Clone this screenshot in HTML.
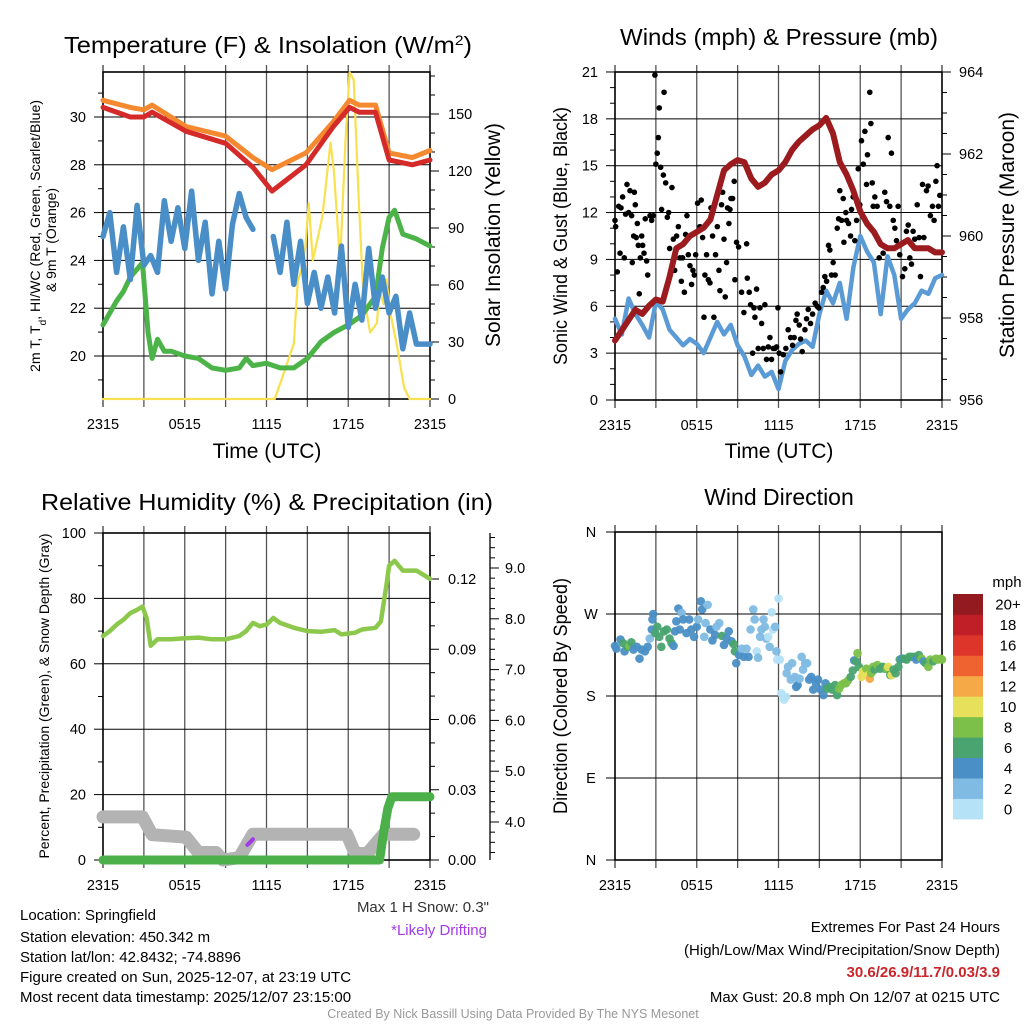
<!DOCTYPE html>
<html><head><meta charset="utf-8"><title>Mesonet Station Meteogram</title>
<style>
html,body{margin:0;padding:0;background:#fff;}
svg{display:block;font-family:"Liberation Sans",Arial,sans-serif;}
</style></head>
<body>
<svg id="chart" xmlns="http://www.w3.org/2000/svg" width="1024" height="1024" viewBox="0 0 1024 1024"></svg>
<script>
// ---------------- DATA ----------------
const tempT   = [0,2,3,3.6,6.1,9,11,12.4,14.9,16.9,18.1,18.8,20,21,22.7,24];
const temp9m  = [30.7,30.4,30.3,30.5,29.6,29.2,28.3,27.8,28.5,29.8,30.7,30.5,30.5,28.5,28.3,28.6];
const temp2m  = [30.4,30.0,30.0,30.2,29.4,28.9,27.9,26.9,28.0,29.6,30.4,30.2,30.2,28.2,28.0,28.2];
const hiwcT   = [0,0.5,1,1.5,2,2.5,3,3.5,4,4.5,5,5.5,6,6.5,7,7.5,8,8.5,9,9.5,10,10.5,11,11.5,12,12.5,13,13.5,14,14.5,15,15.5,16,16.5,17,17.5,18,18.5,19,19.5,20,20.5,21,21.5,22,22.5,23,23.5,24];
const hiwcV   = [25,26,23.5,25.4,23.2,26.3,23.8,24.2,23.5,26.5,24.8,26.2,24.5,26.9,24.0,25.6,22.6,24.8,22.8,25.5,26.8,25.8,25.3,null,null,25.0,23.5,25.6,23.0,24.8,22.2,23.5,22.0,23.3,21.8,24.6,21.2,23.0,21.5,24.5,22.0,23.3,21.8,22.5,20.3,21.8,20.5,20.5,20.5];
const dewT    = [0,1,1.5,2,2.9,3.3,3.6,4,4.5,5,6,7,8,9,10,10.5,11,12,13,14,15,16,17,18,19,20,20.5,21,21.4,22,23,24];
const dewV    = [21.3,22.3,22.7,23.3,23.9,21.0,19.9,20.7,20.2,20.2,20.0,19.9,19.5,19.4,19.5,19.9,19.6,19.7,19.5,19.5,19.9,20.6,21.0,21.3,21.7,22.5,24.5,25.8,26.1,25.1,24.9,24.6];
const solarT  = [0,12.6,13.0,14.0,14.3,14.6,14.85,15.1,15.4,16.1,16.7,16.95,17.4,17.8,18.1,18.4,18.75,19.1,19.6,20.1,20.3,20.6,20.8,21.1,21.6,22.1,22.5,24];
const solarV  = [0,0,8,29,62,69,80,103,73,96,135,120,72,136,172,168,108,56,35,40,57,50,63,45,27,6,0,0];
const tempTicks  = [20,22,24,26,28,30];
const solarTicks = [0,30,60,90,120,150];
const timeLabels = ["2315","0515","1115","1715","2315"];

const windT   = [0,0.5,1,1.5,2,2.5,3,3.5,4,4.5,5,5.5,6,6.5,7,7.5,8,8.5,9,9.5,10,10.5,11,11.5,12,12.5,13,13.5,14,14.5,15,15.5,16,16.5,17,17.5,18,18.5,19,19.5,20,20.5,21,21.5,22,22.5,23,23.5,24];
const windV   = [5.2,4.2,6.5,5.5,4.8,4.0,6.3,5.8,4.5,4.0,3.5,3.9,3.6,3.0,4.0,5.0,4.2,4.8,3.5,2.8,1.6,2.2,1.5,1.8,0.7,2.5,3.2,3.6,3.8,3.4,5.5,7.0,6.2,7.5,5.2,8.5,10.5,9.5,8.8,5.5,9.2,8.0,5.2,5.8,6.2,7.0,6.8,7.8,8.0];
const presT   = [0,0.5,1,1.5,2,2.5,3,3.5,4,4.5,5,5.5,6,6.5,7,7.5,8,8.5,9,9.5,10,10.5,11,11.5,12,12.5,13,13.5,14,14.5,15,15.5,16,16.5,17,17.5,18,18.5,19,19.5,20,20.5,21,21.5,22,22.5,23,23.5,24];
const presV   = [957.45,957.7,957.95,958.2,958.1,958.3,958.45,958.4,959.0,959.7,959.8,960.0,960.1,960.2,960.4,961.0,961.6,961.75,961.85,961.8,961.4,961.2,961.3,961.5,961.6,961.8,962.1,962.3,962.45,962.6,962.7,962.88,962.5,961.8,961.5,961.1,960.6,960.3,960.1,959.8,959.7,959.7,959.8,959.9,959.7,959.7,959.7,959.6,959.6];
const gustT = [0,0.05,0.17,0.27,0.37,0.44,0.56,0.68,0.78,0.88,1.0,1.1,1.22,1.27,1.37,1.42,1.49,1.56,1.64,1.71,1.78,1.86,1.96,2.03,2.13,2.22,2.32,2.4,2.57,2.69,2.81,
 2.93,3.0,3.1,3.18,3.25,3.35,3.42,3.55,3.6,3.72,3.84,3.94,4.18,
 4.01,4.28,4.38,4.52,4.65,4.77,4.87,4.96,5.09,5.18,5.28,5.38,5.5,5.62,5.72,5.82,5.92,
 6.06,6.23,6.33,6.43,6.53,6.6,6.72,6.85,6.97,7.04,7.16,7.26,7.38,7.51,7.63,7.7,7.82,7.9,8.0,8.09,8.19,8.26,8.36,8.44,8.51,8.63,8.75,8.8,8.92,9.07,9.29,9.46,9.66,9.71,
 9.85,9.95,10.1,10.2,10.27,10.39,10.51,10.64,10.76,10.88,11.0,11.12,11.25,11.37,11.49,11.61,11.74,11.86,11.96,12.05,
 12.15,12.35,12.54,12.71,12.89,13.03,13.15,13.28,13.37,13.52,13.62,13.74,13.94,14.06,14.18,14.35,14.5,14.69,14.84,14.96,
 15.16,15.28,15.4,15.53,15.67,15.77,15.89,16.01,16.16,16.31,16.41,16.5,16.63,16.75,16.8,16.94,17.0,17.14,17.29,17.36,17.48,17.6,17.73,17.85,17.97,
 18.09,18.22,18.34,18.46,18.53,18.7,18.78,18.88,18.95,19.07,19.24,19.39,19.49,19.68,19.8,19.93,20.05,20.17,20.29,20.42,20.54,20.66,20.78,20.9,
 21.1,21.27,21.39,21.52,21.64,21.76,21.88,22.0,22.18,22.32,22.42,22.57,22.67,22.86,22.98,23.15,23.3,23.42,23.55,23.64,23.74,23.84];
const gustV = [11.5,11.1,8.2,12.4,9.4,12.3,13.0,9.1,11.9,13.8,12.0,13.4,11.8,8.8,10.5,13.3,12.5,10.4,11.3,9.9,6.8,9.1,10.5,9.9,9.4,11.6,8.9,8.0,11.8,11.5,11.8,
 20.8,15.1,15.8,16.8,18.7,14.9,12.2,14.4,19.7,13.9,11.7,12.0,13.6,
 9.7,10.3,8.3,10.5,11.1,9.1,7.6,9.1,6.9,10.6,11.8,9.3,8.6,7.4,8.3,8.0,9.3,
 12.6,11.1,12.8,10.4,5.3,8.0,9.3,7.7,7.5,12.3,10.5,5.3,9.3,11.1,8.3,7.0,12.5,13.3,10.3,6.6,8.8,12.3,11.3,12.2,12.9,12.9,14.0,7.7,10.1,9.8,6.9,5.6,10.0,7.8,
 6.9,6.1,3.0,5.9,5.3,7.1,3.3,5.9,4.9,3.3,6.1,2.6,3.4,4.0,2.6,3.3,3.3,3.4,5.9,3.0,
 1.8,2.9,3.3,4.5,4.0,3.5,4.0,5.1,5.5,4.8,3.9,3.1,4.5,5.2,5.8,4.9,5.5,6.2,6.0,5.9,
 6.9,7.2,7.9,7.6,9.9,9.6,8.0,8.8,8.0,11.0,11.6,13.4,11.5,12.9,10.1,12.0,11.5,11.3,10.5,12.2,13.0,10.2,11.5,14.8,12.5,
 16.6,15.1,17.2,13.8,15.7,19.7,17.7,13.9,12.4,13.0,12.4,9.1,10.0,9.4,13.3,12.7,16.8,12.4,15.8,11.5,11.0,10.2,12.4,9.3,
 7.9,8.4,10.8,11.2,9.1,8.7,10.8,10.3,12.5,10.4,7.9,13.8,10.4,13.4,13.7,11.8,12.4,11.5,14.0,15.0,12.4,13.1];
const windTicks = [0,3,6,9,12,15,18,21];
const presTicks = [956,958,960,962,964];

const rhT  = [0,0.5,1,1.5,2,2.5,2.9,3.2,3.5,4,5,6,7,8,9,10,10.5,11,11.5,12,12.5,13,14,15,16,17,17.5,18.5,19,20,20.4,20.8,21,21.4,22,23,24];
const rhV  = [68.5,70,72,73.5,75.5,76.5,77.5,74,65.5,67.5,67.5,67.8,68,67.5,67.5,68.5,70,72.5,71.5,72,74,72.5,71,70,69.8,70.3,69,69.5,70.5,71,73,84,90,91.5,88.5,88.5,86];
const precipT = [0,20.3,20.6,20.9,21.2,24];
const precipV = [0,0,0.012,0.022,0.027,0.027];
const snowT = [0,2.9,3.6,6.1,7.0,8.3,8.8,10.0,11.0,17.9,18.5,19.4,20.6,22.8];
const snowV = [4.1,4.1,3.75,3.7,3.4,3.4,3.25,3.3,3.76,3.76,3.38,3.38,3.76,3.76];
const driftT = [10.6,11.0];
const driftV = [3.55,3.66];
const rhTicks = [0,20,40,60,80,100];
const precipTicks = [0,0.03,0.06,0.09,0.12];
const snowTicks = [4,5,6,7,8,9];

const dirT = [0.0,0.1,0.4,0.6,0.7,0.9,1.05,1.2,1.35,1.6,1.8,1.95,2.2,2.4,2.55,2.7,2.75,2.8,2.95,3.1,3.25,3.4,3.6,3.8,4.0,4.15,4.3,4.4,4.5,4.65,4.75,4.9,5.0,5.25,5.45,5.6,5.8,6.0,6.1,6.3,6.4,6.55,6.65,6.8,7.0,7.15,7.35,7.45,7.65,7.85,8.0,8.2,8.35,8.55,8.7,8.8,8.9,9.1,9.3,9.45,9.65,9.8,9.95,10.15,10.25,10.4,10.5,10.65,10.75,10.9,11.0,11.1,11.25,11.35,11.5,11.6,11.75,11.85,12.0,11.9,12.1,12.2,12.4,12.55,12.6,12.7,12.9,13.0,13.2,13.3,13.4,13.55,13.7,13.8,13.95,14.1,14.25,14.4,14.55,14.75,14.9,15.1,15.3,15.45,15.55,15.75,15.95,16.15,16.3,16.45,16.6,16.8,16.95,17.1,17.3,17.45,17.55,17.7,17.8,17.9,18.1,18.2,18.35,18.45,18.6,18.7,18.8,18.95,19.05,19.25,19.45,19.65,19.8,19.95,20.05,20.2,20.3,20.45,20.6,20.8,20.9,21.05,21.2,21.4,21.6,21.75,21.95,22.1,22.3,22.5,22.65,22.8,23.0,23.15,23.35,23.55,23.7,23.9,24.0];
const dirD = [235,232,242,238,229,234,235,239,231,234,221,231,229,234,243,253,264,270,249,256,245,234,251,253,243,238,235,251,262,276,253,271,264,249,264,253,245,256,264,284,275,245,260,280,253,241,247,256,260,246,236,243,251,240,237,229,216,225,232,223,232,223,253,275,264,229,222,245,253,264,256,243,245,234,272,253,256,229,287,220,220,183,176,179,205,212,198,216,201,190,192,199,223,209,216,216,198,201,187,194,198,187,181,194,188,190,187,192,181,188,192,194,194,197,201,208,219,218,227,212,201,207,208,210,203,199,205,212,209,214,210,212,210,210,212,203,203,209,205,212,220,221,221,220,223,223,223,220,225,221,218,216,212,220,218,221,220,221,220];
const dirS = [4,4,4,6,4,6,8,6,4,4,4,4,4,4,2,4,4,4,6,6,6,6,6,6,6,6,4,4,4,4,4,2,4,4,4,4,4,4,2,4,4,2,2,2,4,4,4,2,2,6,4,4,4,4,6,6,4,4,2,4,2,4,2,2,2,0,2,2,2,2,2,2,0,2,0,0,2,2,0,0,0,0,0,0,2,2,2,2,2,4,4,2,2,2,2,2,4,4,4,4,4,4,4,4,6,6,6,6,6,8,8,8,8,8,6,6,4,6,8,6,10,10,10,8,10,12,8,8,6,8,6,6,6,8,10,6,10,6,6,6,6,4,6,6,6,6,6,4,6,8,4,6,8,8,6,8,8,8,8];
const dirTicks = [0,90,180,270,360];
const dirLabels = ["N","E","S","W","N"];
const cbLabels = ["0","2","4","6","8","10","12","14","16","18","20+"];
const cbColors = ["#b5e2f7","#80bbe3","#4a8fc6","#49a46f","#7cc04a","#e6e05b","#f5a947","#ee6330","#dd3529","#c01f27","#931a1e"];

// ---------------- DRAWING ----------------
const NS = 'http://www.w3.org/2000/svg';
const svg = document.getElementById('chart');
function mk(tag, attrs, parent){
  const e = document.createElementNS(NS, tag);
  for (const k in attrs) e.setAttribute(k, attrs[k]);
  (parent || svg).appendChild(e);
  return e;
}
function group(name){
  const g = mk('g', {});
  
  
  return g;
}
function text(parent, x, y, s, size, anchor, name, extra){
  const a = Object.assign({x:x, y:y, 'font-size':size, 'text-anchor':anchor||'start', fill:'#000'}, extra||{});
  const t = mk('text', a, parent);
  t.textContent = s;
  
  
  return t;
}
function vtext(parent, x, y, s, size, len, name, color){
  const t = mk('text', {x:0, y:0, 'font-size':size, 'text-anchor':'middle', fill:color||'#000',
    transform:'translate('+x+','+y+') rotate(-90)', textLength:len, lengthAdjust:'spacingAndGlyphs'}, parent);
  t.textContent = s;
  
  
  return t;
}
function tspan(parent, s, attrs){
  const sp = mk('tspan', attrs, parent);
  sp.textContent = s;
  return sp;
}
function polyline(parent, ts, vs, sx, sy, color, width, name){
  let d = '', pen = false;
  for (let i = 0; i < ts.length; i++){
    if (vs[i] === null || vs[i] === undefined){ pen = false; continue; }
    d += (pen ? 'L' : 'M') + sx(ts[i]).toFixed(1) + ',' + sy(vs[i]).toFixed(1);
    pen = true;
  }
  const p = mk('path', {d:d, fill:'none', stroke:color, 'stroke-width':width, 'stroke-linejoin':'round', 'stroke-linecap':'round'}, parent);
  
  
  return p;
}
function frame(g, P, hGrid, ySc){
  for (let h = 3; h < 24; h += 3){
    const x = P.sx(h);
    const l = mk('line', {x1:x, x2:x, y1:P.top-7, y2:P.bot+8, stroke:'#555', 'stroke-width':1.3}, g);
    
    
  }
  for (const h of [0,24]){
    const x = P.sx(h);
    const l = mk('line', {x1:x, x2:x, y1:P.top-7, y2:P.bot+8, stroke:'#000', 'stroke-width':1}, g);
    
    
  }
  hGrid.forEach(v => {
    const y = ySc(v);
    const l = mk('line', {x1:P.x0, x2:P.x1, y1:y, y2:y, stroke:'#000', 'stroke-width':1}, g);
    
    
  });
  const r = mk('rect', {x:P.x0, y:P.top, width:P.x1-P.x0, height:P.bot-P.top, fill:'none', stroke:'#000', 'stroke-width':1.6}, g);
  
  
  timeLabels.forEach((s, i) => {
    text(g, P.sx(i*6), P.bot+30, s, 14.5, 'middle', 'x-tick-label');
  });
}
function yTicks(g, x, majors, minors, sc, dir, labelFn, labelX, anchor, name){
  minors.forEach(v => {
    const y = sc(v);
    const l = mk('line', {x1:x, x2:x+dir*5, y1:y, y2:y, stroke:'#000', 'stroke-width':1}, g);
    
    
  });
  majors.forEach(v => {
    const y = sc(v);
    const l = mk('line', {x1:x, x2:x+dir*9, y1:y, y2:y, stroke:'#000', 'stroke-width':1}, g);
    
    
    text(g, labelX, y+5, labelFn(v), 14.5, anchor, name + '-tick-label');
  });
}
function range(a, b, s){ const r=[]; for (let v=a; v<=b+1e-9; v+=s) r.push(+v.toFixed(4)); return r; }

// ----- Panel 1 -----
const P1 = {x0:103, x1:430, top:72, bot:399};
P1.sx = t => P1.x0 + t/24*(P1.x1-P1.x0);
const yT = v => 356 - (v-20)*23.9;
const yS = v => 399 - v*1.9;
{
  const g = group('temperature-panel');
  const tt = text(g, 268, 53, 'Temperature (F) & Insolation (W/m', 23, 'middle', 'temperature-title', {textLength:408, lengthAdjust:'spacingAndGlyphs'});
  tspan(tt, '2', {'baseline-shift':'super', 'font-size':14});
  tspan(tt, ')', {'baseline-shift':'baseline'});
  frame(g, P1, tempTicks, yT);
  yTicks(g, P1.x0, tempTicks, range(19,31,2), yT, -1, v => String(v), 86, 'end', 'temp-axis');
  yTicks(g, P1.x1, solarTicks, range(10,170,10).filter(v=>v%30), yS, 1, v => String(v), 448, 'start', 'solar-axis');
  const yl = vtext(g, 40, 236, '2m T, T', 14, 272, 'temp-y-title-1');
  tspan(yl, 'd', {'baseline-shift':'sub', 'font-size':10});
  tspan(yl, ', HI/WC (Red, Green, Scarlet/Blue)', {'baseline-shift':'baseline'});
  vtext(g, 56, 240, '& 9m T (Orange)', 14, 104, 'temp-y-title-2');
  vtext(g, 500, 235, 'Solar Insolation (Yellow)', 21, 224, 'solar-y-title');
  text(g, 267, 458, 'Time (UTC)', 21, 'middle', 'x-axis-title');
  polyline(g, solarT, solarV, P1.sx, yS, '#f9e04f', 2.2, 'solar-line');
  polyline(g, dewT, dewV, P1.sx, yT, '#4bb347', 5, 'dewpoint-line');
  polyline(g, hiwcT, hiwcV, P1.sx, yT, '#4a8ec8', 5.5, 'heat-index-wind-chill-line');
  polyline(g, tempT, temp9m, P1.sx, yT, '#f5892f', 5, 'temp-9m-line');
  polyline(g, tempT, temp2m, P1.sx, yT, '#d42a29', 5, 'temp-2m-line');
}

// ----- Panel 2 -----
const P2 = {x0:615, x1:942, top:72, bot:400};
P2.sx = t => P2.x0 + t/24*(P2.x1-P2.x0);
const yW = v => 400 - v*15.62;
const yP = p => 400 - (p-956)*41;
{
  const g = group('wind-pressure-panel');
  text(g, 779, 45, 'Winds (mph) & Pressure (mb)', 23, 'middle', 'winds-title', {textLength:318, lengthAdjust:'spacingAndGlyphs'});
  frame(g, P2, windTicks.slice(1,7), yW);
  yTicks(g, P2.x0, windTicks, range(1,20,1).filter(v=>v%3), yW, -1, v => String(v), 598, 'end', 'wind-axis');
  yTicks(g, P2.x1, presTicks, range(956.5,963.5,0.5).filter(v=>v%2), yP, 1, v => String(v), 959, 'start', 'pressure-axis');
  vtext(g, 567, 236, 'Sonic Wind & Gust (Blue, Black)', 19, 258, 'wind-y-title');
  vtext(g, 1014, 235, 'Station Pressure (Maroon)', 21, 246, 'pressure-y-title');
  text(g, 779, 458, 'Time (UTC)', 21, 'middle', 'x-axis-title');
  polyline(g, windT, windV, P2.sx, yW, '#5b9bd5', 4.5, 'sonic-wind-line');
  gustT.forEach((t, i) => {
    const c = mk('circle', {cx:P2.sx(t), cy:yW(gustV[i]), r:2.8, fill:'#000'}, g);
    
    
  });
  polyline(g, presT, presV, P2.sx, yP, '#9b1b1e', 6, 'pressure-line');
}

// ----- Panel 3 -----
const P3 = {x0:103, x1:430, top:533, bot:860};
P3.sx = t => P3.x0 + t/24*(P3.x1-P3.x0);
const yRH = v => 860 - v*3.27;
const yPr = v => 860 - v/0.03*70.25;
const ySn = v => 822 - (v-4)*50.8;
{
  const g = group('humidity-precip-panel');
  text(g, 267, 510, 'Relative Humidity (%) & Precipitation (in)', 23, 'middle', 'humidity-title', {textLength:452, lengthAdjust:'spacingAndGlyphs'});
  frame(g, P3, [20,40,60,80], yRH);
  yTicks(g, P3.x0, rhTicks, [10,30,50,70,90], yRH, -1, v => String(v), 86, 'end', 'rh-axis');
  yTicks(g, P3.x1, precipTicks, [0.01,0.02,0.04,0.05,0.07,0.08,0.1,0.11,0.13], yPr, 1, v => v.toFixed(2), 448, 'start', 'precip-axis');
  const ax = mk('line', {x1:490, x2:490, y1:533, y2:860, stroke:'#000', 'stroke-width':1.3}, g);
  
  
  yTicks(g, 490, snowTicks, range(3.4,9.6,0.2).filter(v=>Math.abs(v-Math.round(v))>0.01), ySn, 1, v => v.toFixed(1), 505, 'start', 'snow-axis');
  vtext(g, 49, 696, 'Percent, Precipitation (Green), & Snow Depth (Gray)', 14, 325, 'rh-y-title');
  polyline(g, snowT, snowV, P3.sx, ySn, '#b3b3b3', 13, 'snow-depth-line');
  polyline(g, driftT, driftV, P3.sx, ySn, '#a23be6', 4, 'likely-drifting-line');
  polyline(g, precipT, precipV, P3.sx, yPr, '#4cb04a', 9, 'precip-line');
  polyline(g, rhT, rhV, P3.sx, yRH, '#8cc84b', 4.5, 'rh-line');
}

// ----- Panel 4 -----
const P4 = {x0:615, x1:942, top:532, bot:860};
P4.sx = t => P4.x0 + t/24*(P4.x1-P4.x0);
const yD = d => 860 - d*328/360;
{
  const g = group('wind-direction-panel');
  text(g, 779, 505, 'Wind Direction', 23, 'middle', 'wind-direction-title');
  frame(g, P4, [90,180,270], yD);
  yTicks(g, P4.x0, dirTicks, [], yD, -1, v => dirLabels[dirTicks.indexOf(v)], 591, 'middle', 'direction-axis');
  vtext(g, 567, 696, 'Direction (Colored By Speed)', 19, 236, 'direction-y-title');
  dirT.forEach((t, i) => {
    const idx = Math.min(10, Math.round(dirS[i]/2));
    const c = mk('circle', {cx:P4.sx(t), cy:yD(dirD[i]), r:4.3, fill:cbColors[idx], 'fill-opacity':0.95}, g);
    
    
  });
  const cb = group('speed-colorbar');
  text(cb, 1007, 587, 'mph', 15, 'middle', 'colorbar-title');
  const bh = (819-594)/cbColors.length;
  cbColors.forEach((col, i) => {
    const y = 819 - (i+1)*bh;
    const r = mk('rect', {x:953, y:y, width:30, height:bh+0.4, fill:col}, cb);
    
    
    text(cb, 1008, y+bh/2+5.5, cbLabels[i], 15, 'middle', 'colorbar-label');
  });
}

// ----- Footer text -----
{
  const g = group('footer');
  const L = ['Location: Springfield','Station elevation: 450.342 m','Station lat/lon: 42.8432; -74.8896','Figure created on Sun, 2025-12-07, at 23:19 UTC','Most recent data timestamp: 2025/12/07 23:15:00'];
  const LY = [920,942,962,982,1002];
  L.forEach((s,i) => text(g, 20, LY[i], s, 15, 'start', 'station-info-line'));
  text(g, 489, 912, 'Max 1 H Snow: 0.3"', 15, 'end', 'max-snow-note', {fill:'#333'});
  text(g, 487, 935, '*Likely Drifting', 15, 'end', 'drifting-note', {fill:'#a23be6'});
  text(g, 1000, 932, 'Extremes For Past 24 Hours', 15, 'end', 'extremes-title');
  text(g, 1000, 955, '(High/Low/Max Wind/Precipitation/Snow Depth)', 15, 'end', 'extremes-legend');
  text(g, 1000, 977, '30.6/26.9/11.7/0.03/3.9', 15, 'end', 'extremes-values', {fill:'#c9252b','font-weight':'bold'});
  text(g, 1000, 1002, 'Max Gust: 20.8 mph On 12/07 at 0215 UTC', 15, 'end', 'max-gust');
  text(g, 513, 1018, 'Created By Nick Bassill Using Data Provided By The NYS Mesonet', 12.5, 'middle', 'credit', {fill:'#999'});
}
</script>
</body></html>
